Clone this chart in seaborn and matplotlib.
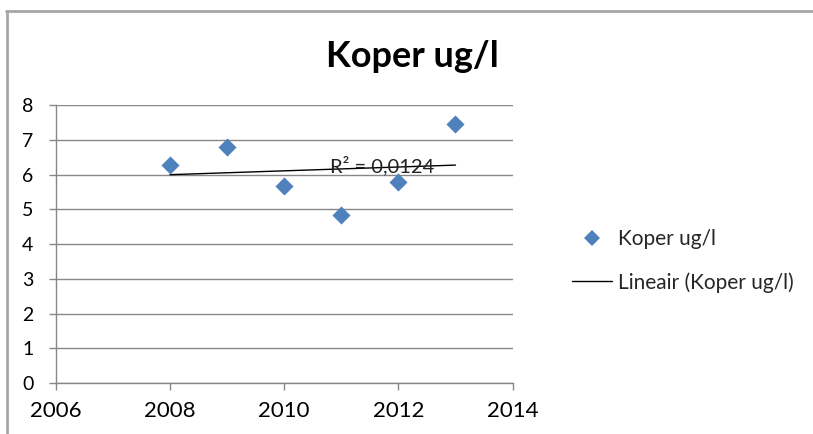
import matplotlib
matplotlib.use("Agg")
import matplotlib.pyplot as plt
from matplotlib.lines import Line2D
import seaborn as sns
import pandas as pd

# Copper concentration per year
years = [2008, 2009, 2010, 2011, 2012, 2013]
koper = [6.29, 6.81, 5.66, 4.83, 5.78, 7.46]
r2_label = "R² = 0,0124"
series_name = "Koper ug/l"
trend_name = "Lineair (Koper ug/l)"
x_ticks = [2006, 2008, 2010, 2012, 2014]
y_ticks = [0, 1, 2, 3, 4, 5, 6, 7, 8]

df = pd.DataFrame({"jaar": years, "koper": koper})

sns.set_theme(style="white")
plt.rcParams["font.family"] = ["Lato", "DejaVu Sans"]

fig = plt.figure(figsize=(8.13, 4.34), dpi=100)
ax = fig.add_axes([0.0685, 0.1175, 0.562, 0.640])

grid_col = "#878787"
blue = "#4F81BD"

sns.regplot(data=df, x="jaar", y="koper", ax=ax, scatter=False, ci=None,
            line_kws={"color": "black", "lw": 1.0, "zorder": 3})
sns.scatterplot(data=df, x="jaar", y="koper", ax=ax, marker="D", s=85,
                color=blue, linewidth=0, zorder=4)

ax.set_xlim(2006, 2014)
ax.set_ylim(0, 8)
ax.set_xticks(x_ticks)
ax.set_yticks(y_ticks)
ax.set_xlabel("")
ax.set_ylabel("")
ax.yaxis.grid(True, color=grid_col, lw=1.0)
ax.xaxis.grid(False)
for side in ("top", "right"):
    ax.spines[side].set_visible(False)
for side in ("left", "bottom"):
    ax.spines[side].set_color(grid_col)
    ax.spines[side].set_linewidth(1.0)
ax.tick_params(axis="y", length=5, width=1.0, color=grid_col, pad=11,
               labelsize=14, labelcolor="black", left=True)
ax.tick_params(axis="x", length=5, width=1.0, color=grid_col, pad=8,
               labelsize=16, labelcolor="black", bottom=True)

ax.text(2010.8, 6.25, r2_label, fontsize=14.5, color="#222222",
        ha="left", va="center", zorder=5)

fig.text(0.507, 0.870, series_name, fontsize=26, fontweight="bold",
         ha="center", va="center", color="black")

handles = [
    Line2D([], [], marker="D", color=blue, linestyle="none", markersize=8.5,
           markeredgewidth=0),
    Line2D([], [], color="black", lw=1.0),
]
fig.legend(handles, [series_name, trend_name], loc="center left",
           bbox_to_anchor=(0.681, 0.399), frameon=False, fontsize=15,
           handlelength=1.9, handletextpad=0.3, labelspacing=1.1)

# outer chart frame (top and left edges visible)
frame_col = "#A6A6A6"
fig.add_artist(Line2D([0.007, 1.0], [1 - 11 / 434, 1 - 11 / 434],
                      transform=fig.transFigure, color=frame_col, lw=2))
fig.add_artist(Line2D([0.008, 0.008], [0.0, 1 - 11 / 434],
                      transform=fig.transFigure, color=frame_col, lw=2))

fig.savefig("out.png", dpi=100, facecolor="white")
